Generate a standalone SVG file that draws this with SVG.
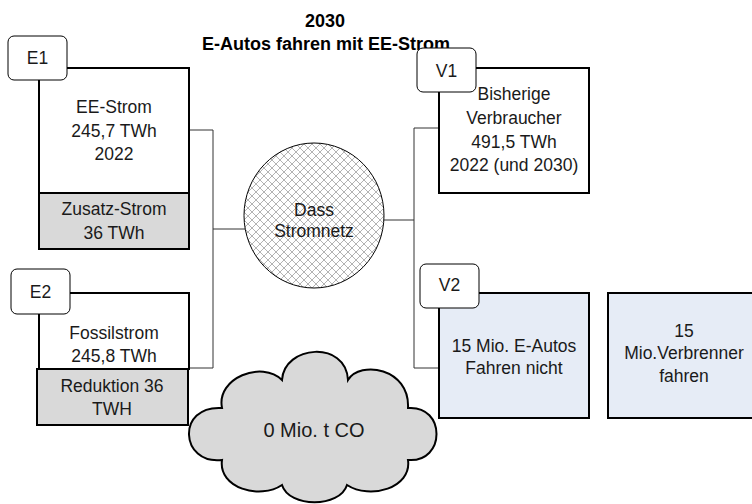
<svg xmlns="http://www.w3.org/2000/svg" width="752" height="504" viewBox="0 0 752 504">
<defs>
<pattern id="hatch" width="8" height="8" patternUnits="userSpaceOnUse">
<rect width="8" height="8" fill="#ffffff"/>
<path d="M0,0 L8,8 M8,0 L0,8" stroke="#b3b3b3" stroke-width="1"/>
</pattern>
<style>
.t{font-family:"Liberation Sans",Arial,sans-serif;font-size:17.5px;fill:#1a1a1a;text-anchor:middle}
.title{font-family:"Liberation Sans",Arial,sans-serif;font-size:18px;font-weight:bold;fill:#000;text-anchor:middle}
.main{fill:#ffffff;stroke:#000;stroke-width:2}
.grey{fill:#d9d9d9;stroke:#000;stroke-width:2}
.blue{fill:#e6ecf6;stroke:#000;stroke-width:2}
.lab{fill:#ffffff;stroke:#000;stroke-width:1}
.conn{fill:none;stroke:#333;stroke-width:1}
</style>
</defs>
<rect width="752" height="504" fill="#ffffff"/>
<g id="title">
<text class="title" x="325" y="27">2030</text>
<text class="title" x="326" y="50">E-Autos fahren mit EE-Strom</text>
</g>
<g id="connectors">
<path class="conn" d="M189,130 H213 V368 H189 M213,229 H245"/>
<path class="conn" d="M383,220 H414 M439,128 H414 V368 H439"/>
</g>
<g id="E1">
<rect class="main" x="39" y="68" width="150" height="125"/>
<text class="t" x="114" y="113">EE-Strom</text>
<text class="t" x="114" y="137">245,7 TWh</text>
<text class="t" x="114" y="160">2022</text>
<rect class="lab" x="8" y="36" width="59" height="44" rx="6"/>
<text class="t" x="37.5" y="64">E1</text>
</g>
<g id="zusatz">
<rect class="grey" x="39" y="193" width="150" height="56"/>
<text class="t" x="114" y="215">Zusatz-Strom</text>
<text class="t" x="114" y="239">36 TWh</text>
</g>
<g id="E2">
<rect class="main" x="39" y="293" width="150" height="76"/>
<text class="t" x="114" y="339">Fossilstrom</text>
<text class="t" x="114" y="362">245,8 TWh</text>
<rect class="lab" x="11" y="269" width="59" height="45" rx="6"/>
<text class="t" x="40.5" y="298">E2</text>
</g>
<g id="reduktion">
<rect class="grey" x="37" y="369" width="151" height="56"/>
<text class="t" x="112" y="392">Reduktion 36</text>
<text class="t" x="112" y="415">TWH</text>
</g>
<g id="stromnetz">
<ellipse cx="314" cy="215.5" rx="70" ry="72.5" fill="url(#hatch)" stroke="#000" stroke-width="1"/>
<text class="t" x="314" y="216">Dass</text>
<text class="t" x="314" y="237">Stromnetz</text>
</g>
<g id="V1">
<rect class="main" x="439" y="68" width="150" height="125"/>
<text class="t" x="514" y="100">Bisherige</text>
<text class="t" x="514" y="124">Verbraucher</text>
<text class="t" x="514" y="148">491,5 TWh</text>
<text class="t" x="514" y="171">2022 (und 2030)</text>
<rect class="lab" x="417" y="48" width="59" height="44" rx="6"/>
<text class="t" x="446.5" y="77">V1</text>
</g>
<g id="V2">
<rect class="blue" x="439" y="293" width="150" height="125"/>
<text class="t" x="514" y="352">15 Mio. E-Autos</text>
<text class="t" x="514" y="374">Fahren nicht</text>
<rect class="lab" x="420" y="264" width="59" height="44" rx="6"/>
<text class="t" x="449.5" y="291">V2</text>
</g>
<g id="verbrenner">
<rect class="blue" x="608" y="293" width="152" height="125"/>
<text class="t" x="684" y="337">15</text>
<text class="t" x="684" y="359">Mio.Verbrenner</text>
<text class="t" x="684" y="382">fahren</text>
</g>
<g id="cloud">
<path d="M222,408 C216,378 262,360 282,380 C284,345 346,340 348,380 C360,360 410,368 408,408 C446,405 446,463 408,460 C412,488 370,500 347,485 C340,508 289,508 282,485 C260,500 218,488 222,460 C180,465 176,405 222,408 Z" fill="#d9d9d9" stroke="#000" stroke-width="2"/>
<text x="314" y="437" font-family="'Liberation Sans',Arial,sans-serif" font-size="20" fill="#1a1a1a" text-anchor="middle">0 Mio. t CO</text>
</g>
</svg>
